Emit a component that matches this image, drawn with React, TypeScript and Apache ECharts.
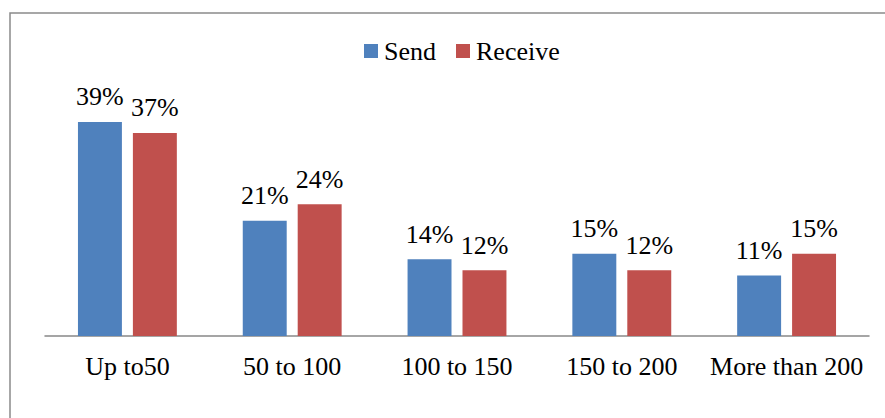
import React, { useEffect, useRef } from "react";
import * as echarts from "echarts";

const categories = ["Up to50", "50 to 100", "100 to 150", "150 to 200", "More than 200"];
const sendValues = [39, 21, 14, 15, 11];
const receiveValues = [37, 24, 12, 12, 15];
const seriesNames = ["Send", "Receive"];

export default function App() {
  const ref = useRef<HTMLDivElement>(null);
  useEffect(() => {
    document.body.style.margin = "0";
    const chart = echarts.init(ref.current!, null, { renderer: "svg" });
    const font = "'Liberation Serif', 'Times New Roman', serif";
    const label = {
      show: true,
      position: "top" as const,
      distance: 12,
      formatter: "{c}%",
      fontFamily: font,
      fontSize: 26,
      color: "#000",
    };
    chart.setOption({
      animation: false,
      graphic: [
        {
          type: "rect",
          shape: { x: 10, y: 13, width: 900, height: 420 },
          style: { fill: "none", stroke: "#8a8a8a", lineWidth: 1.5 },
          silent: true,
        },
      ],
      legend: {
        top: 33,
        left: 359,
        itemWidth: 14,
        itemHeight: 14,
        itemGap: 20,
        icon: "rect",
        textStyle: { fontFamily: font, fontSize: 26, color: "#000", padding: [0, 0, 0, 1] },
        data: seriesNames,
      },
      grid: { left: 45, right: 16, top: 89, bottom: 82 },
      xAxis: {
        type: "category",
        data: categories,
        axisLine: { lineStyle: { color: "#888", width: 1.5 } },
        axisTick: { show: false },
        axisLabel: { fontFamily: font, fontSize: 26, color: "#000", margin: 17, interval: 0 },
      },
      yAxis: {
        type: "value",
        min: 0,
        max: 45,
        show: false,
        splitLine: { show: false },
      },
      series: [
        {
          name: seriesNames[0],
          type: "bar",
          data: sendValues,
          itemStyle: { color: "#4F81BD" },
          barGap: "25%",
          barCategoryGap: "40%",
          label,
        },
        {
          name: seriesNames[1],
          type: "bar",
          data: receiveValues,
          itemStyle: { color: "#C0504D" },
          barGap: "25%",
          barCategoryGap: "40%",
          label,
        },
      ],
    });
    return () => chart.dispose();
  }, []);
  return <div ref={ref} style={{ width: 885, height: 418 }} />;
}
